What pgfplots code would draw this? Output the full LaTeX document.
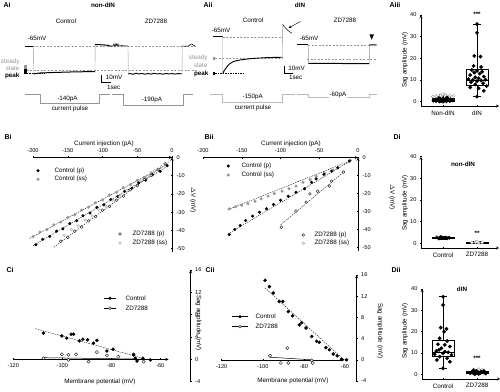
\documentclass[border=0pt]{standalone}
\usepackage{pgfplots}
\pgfplotsset{compat=1.18}
\usepgfplotslibrary{statistics}
\usetikzlibrary{arrows.meta}
\usepackage{fontspec}
\setmainfont{Liberation Sans}
\definecolor{gr}{RGB}{150,150,150}
\definecolor{lg}{RGB}{185,185,185}
\newcommand\fs{\fontsize{6.3}{7}\selectfont}
\newcommand\fst{\fontsize{5.6}{6}\selectfont}
\pgfplotsset{
  dax/.style={scale only axis, clip=false, axis line style={-, line width=0.45pt},
    tick style={black, line width=0.45pt}, tick align=outside, major tick length=2pt,
    tick label style={font=\fst}, /pgf/number format/assume math mode=true,
    /pgf/number format/1000 sep={}},
  blk/.style={only marks, mark=*, mark size=1.4pt, mark options={fill=black, draw=black, line width=0.3pt}},
  gry/.style={only marks, mark=*, mark size=1.4pt, mark options={fill=gr, draw=gr, line width=0.3pt}},
  opn/.style={only marks, mark=*, mark size=1.4pt, mark options={fill=white, draw=black, line width=0.35pt}},
  opg/.style={only marks, mark=*, mark size=1.4pt, mark options={fill=white, draw=gr, line width=0.35pt}},
  dblk/.style={only marks, mark=*, mark size=1.75pt, mark options={fill=black, draw=black, line width=0.3pt}},
  dopg/.style={only marks, mark=*, mark size=1.6pt, mark options={fill=white, draw=gr, line width=0.4pt}},
  fit/.style={black, line width=0.35pt, dash pattern=on 1.5pt off 1pt},
  tr/.style={black, line width=1pt},
  tv/.style={gr, line width=0.35pt},
  bp/.style={black, line width=0.45pt, solid, boxplot/draw direction=y},
}
\begin{document}
\begin{tikzpicture}[font=\fs]
\useasboundingbox (0pt,0pt) rectangle (500pt,391pt);

% ---------------- Bi ----------------
\begin{axis}[dax, at={(33pt,138.9pt)}, anchor=south west, width=139pt, height=94.6pt,
  xmin=-200, xmax=0, ymin=-52, ymax=0,
  axis x line=top, axis y line=right,
  xtick={-200,-150,-100,-50,0}, ytick={0,-10,-20,-30,-40,-50}]
\addplot[fit] coordinates {(-200,-48.5) (-5,-4.6)};
\addplot[fit] coordinates {(-205,-44.5) (-5,-3.5)};
\addplot[fit] coordinates {(-170,-49.3) (-5,-2.4)};
\addplot[gry] coordinates {(-200,-43.5) (-190,-41.0) (-180,-39.6) (-170,-37.0) (-160,-35.5) (-150,-33.0) (-140,-31.5) (-130,-28.9) (-120,-27.3) (-110,-24.8) (-100,-23.3) (-90,-20.7) (-80,-19.1) (-70,-16.6) (-60,-15.0) (-50,-12.5) (-40,-10.9) (-30,-8.4) (-20,-6.8) (-10,-3.5)};
\addplot[blk] coordinates {(-196,-47.9) (-186,-45.0) (-176,-43.4) (-166,-40.5) (-157,-39.2) (-147,-36.3) (-137,-34.8) (-128,-32.0) (-118,-30.5) (-108,-27.4) (-98,-26.0) (-88,-23.1) (-78,-21.4) (-68,-18.5) (-58,-16.9) (-48,-14.0) (-38,-12.4) (-28,-9.5) (-17,-7.6) (-7,-4.5)};
\addplot[opg] coordinates {(-155,-42.7) (-145,-39.6) (-135,-37.6) (-125,-34.3) (-115,-32.2) (-105,-28.9) (-95,-26.8) (-85,-23.5) (-75,-21.4) (-65,-18.1) (-55,-15.9) (-45,-12.8) (-35,-10.5) (-25,-7.4) (-15,-5.1)};
\addplot[opn] coordinates {(-160,-46.0) (-150,-43.9) (-140,-40.5) (-130,-38.2) (-120,-34.8) (-110,-32.5) (-100,-29.0) (-90,-26.9) (-80,-23.4) (-70,-21.2) (-60,-17.7) (-50,-15.5) (-40,-12.1) (-30,-9.8) (-20,-6.4) (-10,-3.5)};
\end{axis}

% ---------------- Bii ----------------
\begin{axis}[dax, at={(203pt,139.9pt)}, anchor=south west, width=155pt, height=93.6pt,
  xmin=-200, xmax=0, ymin=-52, ymax=0,
  axis x line=top, axis y line=right,
  xtick={-200,-150,-100,-50,0}, ytick={0,-10,-20,-30,-40,-50}]
\addplot[fit] coordinates {(-168,-42.5) (-8,-1.5)};
\addplot[fit] coordinates {(-168,-29.0) (-8,-1.5)};
\addplot[fit] coordinates {(-100,-37.5) (-17,-7.5)};
\addplot[gry] coordinates {(-166,-28.5) (-158,-27.4) (-150,-26.6) (-142,-25.7) (-133,-24.3) (-125,-23.0) (-116,-21.5) (-108,-20.0) (-98,-18.7) (-89,-17.4) (-80,-15.9) (-71,-13.7) (-62,-12.2) (-54,-10.4) (-43,-8.5) (-32,-7.0) (-26,-5.7) (-10,-1.5)};
\addplot[blk] coordinates {(-166,-42.8) (-159,-40.0) (-152,-37.8) (-145,-35.0) (-136,-32.6) (-127,-30.4) (-118,-28.5) (-109,-26.1) (-100,-23.7) (-90,-21.5) (-80,-19.3) (-69,-17.4) (-60,-13.7) (-54,-11.9) (-44,-9.4) (-34,-7.6) (-26,-5.7) (-11,-2.0)};
\addplot[opn] coordinates {(-99,-38.7) (-80,-29.8) (-67,-24.8) (-62,-20.2) (-52,-18.7) (-37,-15.9) (-34,-13.1) (-19,-8.1)};
\end{axis}

% ---------------- Ci ----------------
\begin{axis}[dax, at={(13.3pt,9.3pt)}, anchor=south west, width=177.4pt, height=111.7pt,
  xmin=-120, xmax=-47.6, ymin=-4, ymax=16,
  axis x line=middle, axis y line=right,
  x axis line style={shorten >=22pt},
  xtick={-120,-100,-80,-60}, ytick={-4,0,4,8,12,16}]
\addplot[fit] coordinates {(-111,5.5) (-68,0.3)};
\addplot[black, line width=0.5pt] coordinates {(-108,0.3) (-68,0.05)};
\addplot[opn, mark size=1.6pt] coordinates {(-107.7,0.2) (-100.2,0.9) (-97.5,0.8) (-94.4,0.9) (-97.5,-0.1) (-89.3,-0.4) (-85.9,1.3) (-81.8,0.7) (-77.1,0.5) (-70.9,0.9) (-66.8,-0.4)};
\addplot[blk, mark size=1.6pt] coordinates {(-107.7,4.7) (-100.2,4.2) (-98.2,3.8) (-96.4,4.5) (-95.4,4.5) (-93,3.3) (-91.6,3.6) (-89.7,3.5) (-87.3,2.9) (-85.9,3.4) (-81.8,1.5) (-79.3,1.8) (-70.9,0.8) (-70.2,0.2) (-69.5,-0.3) (-67.1,0.2) (-64.1,-0.1)};
\end{axis}

% ---------------- Cii ----------------
\begin{axis}[dax, at={(221.7pt,10pt)}, anchor=south west, width=135pt, height=106pt,
  xmin=-120, xmax=-54.3, ymin=-4, ymax=16,
  axis x line=middle, axis y line=right,
  x axis line style={shorten >=12pt},
  xtick={-120,-100,-80,-60}, ytick={-4,0,4,8,12,16}]
\addplot[fit] coordinates {(-99,13.6) (-60.5,0.0)};
\addplot[black, line width=0.5pt] coordinates {(-97,0.5) (-76,0.0)};
\addplot[opn, mark size=1.6pt] coordinates {(-96.5,0.75) (-88.1,2.2) (-91.2,-0.6) (-87.6,-0.6) (-76.2,-0.1) (-75.7,-0.6)};
\addplot[blk, mark size=1.6pt] coordinates {(-98.9,15.0) (-96.8,13.8) (-94.9,12.6) (-92.0,11.0) (-90.3,11.0) (-87.6,9.1) (-85.5,8.3) (-82.2,6.6) (-81.1,7.0) (-79.0,6.0) (-76.2,4.4) (-73.8,3.5) (-72.5,3.3) (-69.3,2.3) (-67.6,1.9) (-65.7,1.1) (-63.8,0.75) (-61.7,0.1) (-59.2,0.0)};
\end{axis}

% ---------------- Aiii ----------------
\begin{axis}[dax, at={(420.9pt,285pt)}, anchor=south west, width=78.2pt, height=91pt,
  xmin=-0.65, xmax=1.65, ymin=-2, ymax=40,
  axis x line=bottom, axis y line=left,
  xtick={0,1}, xticklabels={Non-dIN,dIN}, ytick={0,10,20,30,40},
  xticklabel style={font=\fs}]
\addplot[bp, boxplot prepared={draw position=1, lower whisker=2.3, lower quartile=7.7, median=10, upper quartile=14.9, upper whisker=35.8, box extend=0.65, whisker extend=0.25}] coordinates {};
\addplot[bp, boxplot prepared={draw position=0, lower whisker=0, lower quartile=0.3, median=0.8, upper quartile=1.8, upper whisker=3.4, box extend=0.65, whisker extend=0.25}] coordinates {};
\addplot[dblk] coordinates {(1.00,35.8) (1.00,31.8) (0.92,21.1) (1.10,20.8) (0.90,16.5) (1.12,16.0) (0.85,14.6) (1.0,14.2) (1.15,13.8) (0.92,13.4) (1.08,12.9) (0.80,12.3) (1.20,11.6) (0.95,11.2) (1.05,10.8) (0.75,10.4) (1.25,10.2) (0.88,10.0) (1.12,9.8) (1.0,9.5) (0.82,9.0) (1.18,8.5) (0.95,8.0) (1.28,7.2) (0.80,6.6) (1.05,6.2) (1.2,5.0) (1.0,2.3)};
\addplot[dopg] coordinates {(-0.2,2.6) (-0.07,2.9) (0.07,3.1) (0.2,2.8) (0,3.4) (0.3,2.5) (-0.3,2.4)};
\addplot[dblk] coordinates {(0.0,0.0) (-0.1,0.1) (0.1,0.15) (-0.2,0.3) (0.2,0.3) (-0.05,0.4) (0.05,0.5) (-0.28,0.5) (0.28,0.6) (-0.15,0.7) (0.15,0.8) (0,0.9) (-0.22,1.0) (0.22,1.1) (-0.08,1.2) (0.08,1.3) (0,1.5) (-0.12,1.7) (0.12,1.9)};
\end{axis}

% ---------------- Di ----------------
\begin{axis}[dax, at={(420.9pt,143pt)}, anchor=south west, width=78.2pt, height=91.3pt,
  xmin=-0.65, xmax=1.65, ymin=-2.2, ymax=40,
  axis x line=bottom, axis y line=left,
  xtick={0,1}, xticklabels={Control,ZD7288}, ytick={0,10,20,30,40},
  xticklabel style={font=\fs}]
\addplot[bp, boxplot prepared={draw position=0, lower whisker=2.0, lower quartile=2.2, median=2.5, upper quartile=2.9, upper whisker=3.1, box extend=0.65, whisker extend=0.25}] coordinates {};
\addplot[bp, boxplot prepared={draw position=1, lower whisker=0.1, lower quartile=0.2, median=0.4, upper quartile=0.6, upper whisker=0.8, box extend=0.65, whisker extend=0.25}] coordinates {};
\addplot[dblk] coordinates {(-0.12,2.2) (0,2.4) (0.12,2.3) (-0.06,2.9) (0.06,2.6) (0.18,2.5) (-0.18,2.7)};
\addplot[dopg] coordinates {(0.85,0.3) (0.95,0.5) (1.05,0.2) (1.15,0.4) (1.0,0.7)};
\end{axis}

% ---------------- Dii ----------------
\begin{axis}[dax, at={(422pt,12pt)}, anchor=south west, width=78.2pt, height=90pt,
  xmin=-0.62, xmax=1.68, ymin=-2.2, ymax=40,
  axis x line=bottom, axis y line=left,
  xtick={0,1}, xticklabels={Control,ZD7288}, ytick={0,10,20,30,40},
  xticklabel style={font=\fs}]
\addplot[bp, boxplot prepared={draw position=0, lower whisker=2.8, lower quartile=8.3, median=10.3, upper quartile=16.1, upper whisker=36.4, box extend=0.65, whisker extend=0.25}] coordinates {};
\addplot[bp, boxplot prepared={draw position=1, lower whisker=0, lower quartile=0.4, median=0.9, upper quartile=1.5, upper whisker=2.5, box extend=0.65, whisker extend=0.25}] coordinates {};
\addplot[dblk] coordinates {(0,36.4) (0,32.5) (-0.07,21.9) (0.1,21.3) (0.03,20.0) (-0.1,16.9) (0.12,15.6) (-0.15,14.1) (0.05,13.8) (0.2,13.0) (-0.05,12.2) (-0.2,10.9) (0.15,10.3) (0.0,9.8) (-0.25,9.4) (0.25,9.1) (-0.1,8.3) (0.12,7.5) (-0.18,6.7) (0.2,5.9) (0.05,10.6) (-0.12,11.5) (0,2.8)};
\addplot[dopg] coordinates {(0.9,2.2) (1.05,2.4) (1.15,2.0)};
\addplot[dblk] coordinates {(0.8,0.5) (0.88,0.8) (0.95,0.3) (1.02,1.0) (1.1,0.6) (1.18,0.9) (1.25,0.4) (0.85,1.3) (0.98,1.5) (1.12,1.2) (1.2,1.6) (0.92,0.1) (1.05,0.2) (0.9,1.9)};
\end{axis}

% ---------------- overlay: traces, labels ----------------
\begin{axis}[at={(0pt,0pt)}, anchor=south west, scale only axis, width=500pt, height=391pt,
  xmin=0, xmax=500, ymin=0, ymax=391, y dir=reverse, hide axis, clip=false]
\node[anchor=west,font=\bfseries\fontsize{7}{8}\selectfont] at (0,5) {Ai};
\node[anchor=west,font=\bfseries\fontsize{7}{8}\selectfont] at (200,5) {Aii};
\node[anchor=west,font=\bfseries\fontsize{7}{8}\selectfont] at (386,5) {Aiii};
\node[anchor=west,font=\bfseries\fontsize{7}{8}\selectfont] at (1,137) {Bi};
\node[anchor=west,font=\bfseries\fontsize{7}{8}\selectfont] at (201,137) {Bii};
\node[anchor=west,font=\bfseries\fontsize{7}{8}\selectfont] at (390,137) {Di};
\node[anchor=west,font=\bfseries\fontsize{7}{8}\selectfont] at (3,270) {Ci};
\node[anchor=west,font=\bfseries\fontsize{7}{8}\selectfont] at (202,270) {Cii};
\node[anchor=west,font=\bfseries\fontsize{7}{8}\selectfont] at (388,270) {Dii};

% ---- Ai ----
\node[font=\bfseries\fs] at (103,5) {non-dIN};
\node at (66,21.7) {Control};
\node at (156,21.7) {ZD7288};
\node at (37,38.3) {-65mV};
\node[anchor=east,text=gr] at (23,61.5) {steady};
\node[anchor=east,text=gr] at (23,68.5) {state};
\node[anchor=east,font=\bfseries\fs] at (23,76) {peak};
\fill[gr] (24.5,65) rectangle (26.8,69.2);
\fill[black] (24.5,69.3) rectangle (26.8,73.5);
\addplot[gr, line width=0.4pt, dash pattern=on 2pt off 1.5pt] coordinates {(33,46) (197,46)};
\addplot[gr, line width=0.4pt, dash pattern=on 2pt off 1.5pt] coordinates {(27,70.5) (197,70.5)};
\addplot[black, line width=0.4pt, dash pattern=on 1.5pt off 1pt] coordinates {(27,73.5) (45,73.5)};
\addplot[tr] coordinates {(25,46) (33.3,46)};
\addplot[tv] coordinates {(33.3,46) (33.5,74)};
\addplot[tr] coordinates {(33.5,74) (36,73.5) (40,73) (50,72.6) (60,72.3) (70,72) (80,71.8) (90,71.6) (95,71.5)};
\addplot[tv] coordinates {(95,71.5) (95.2,44.5)};
\addplot[tr] coordinates {(95.2,44.5) (100,44.7) (105,45) (108,45.3) (110,46)};
\addplot[black, line width=0.6pt] coordinates {(110,46) (113,46) (114,44) (115,46.5) (116,43.5) (117,46) (118,44) (119,46) (121,45.7) (128,46)};
\addplot[tv] coordinates {(128,46) (128.3,74)};
\addplot[black, line width=0.9pt] coordinates {(128.3,74) (130,73.5) (133,74.3) (136,73.2) (139,74) (142,73.4) (145,74.2) (148,73.5) (151,74.1) (154,73.3) (157,74) (160,73.6) (163,74.2) (166,73.4) (169,74) (172,73.5) (175,74.1) (178,73.6) (182,73.8)};
\addplot[tv] coordinates {(182,73.8) (182.3,46)};
\addplot[black, line width=0.6pt] coordinates {(182.3,46) (186,46.2) (189,46) (190,44.5) (192,44) (194,45.5) (195,46)};
\draw[black, line width=0.6pt] (101.7,74.5) -- (101.7,82.5) -- (110.5,82.5);
\node[anchor=west] at (102.3,77.3) {10mV};
\node[anchor=west] at (103.5,87.8) {1sec};
\addplot[gr, line width=0.5pt] coordinates {(25,94) (40,94) (40,103) (99.3,103) (99.3,94) (110,94)};
\addplot[gr, line width=0.5pt] coordinates {(112,94) (123.3,94) (123.3,105) (183,105) (183,94) (193,94)};
\node at (67.5,98.5) {-140pA};
\node at (70,109) {current pulse};
\node at (152,100) {-190pA};

% ---- Aii ----
\node[font=\bfseries\fs] at (300,5) {dIN};
\node at (253,20) {Control};
\node at (345,20) {ZD7288};
\node at (221,30) {-65mV};
\node[anchor=east,text=gr] at (211,57.5) {steady};
\node[anchor=east,text=gr] at (211,65) {state};
\node[anchor=east,font=\bfseries\fs] at (212,73.7) {peak};
\fill[gr] (212.5,57) rectangle (214.8,59.6);
\fill[black] (212.5,72.3) rectangle (214.8,75);
\addplot[gr, line width=0.4pt, dash pattern=on 2pt off 1.5pt] coordinates {(222.7,36.7) (283,36.7)};
\addplot[gr, line width=0.4pt, dash pattern=on 2pt off 1.5pt] coordinates {(215,58.3) (283,58.3)};
\addplot[black, line width=0.4pt, dash pattern=on 1.5pt off 1pt] coordinates {(215,73.6) (243,73.6)};
\addplot[tr] coordinates {(213,36.7) (222.7,36.7)};
\addplot[tv] coordinates {(222.7,36.7) (222.8,73.3)};
\addplot[black, line width=0.9pt] coordinates {(222.8,73.3) (224,71) (226,68) (228,65.5) (230,63.5) (233,61.8) (236,60.8) (240,60) (245,59.3) (250,58.7) (255,58.3) (260,58) (265,57.7) (270,57.5) (275,57.4) (280,57.3) (282.5,57.2)};
\addplot[tv] coordinates {(282.5,57.2) (282.7,24.3)};
\addplot[black, line width=0.5pt] coordinates {(282.7,24.3) (284,26.2) (286,28.5) (288,30.5) (290,32) (292,33.3)};
\draw[-{Stealth[length=3pt,width=2.6pt]}, line width=0.45pt] (300.5,21.5) -- (288.5,28);
\node at (309,38.3) {-65mV};
\addplot[gr, line width=0.4pt, dash pattern=on 2pt off 1.5pt] coordinates {(308.3,45) (370,45)};
\addplot[gr, line width=0.4pt, dash pattern=on 2pt off 1.5pt] coordinates {(307,59) (377,59)};
\addplot[tr] coordinates {(296.7,44.3) (308.3,44.3)};
\addplot[tv] coordinates {(308.3,44.3) (308.4,63.3)};
\addplot[tr] coordinates {(308.4,63.3) (320,63.5) (335,63.4) (350,63.6) (369.3,63.5)};
\addplot[tv] coordinates {(369.3,63.5) (369.4,45)};
\addplot[tr] coordinates {(369.4,45) (376.7,44.8)};
\fill[black] (369.4,34.3) -- (374,34.3) -- (371.7,39.8) -- cycle;
\draw[black, line width=0.6pt] (284,65.5) -- (284,73.3) -- (292.5,73.3);
\node[anchor=west] at (284.8,68.3) {10mV};
\node[anchor=west] at (285.5,77.3) {1sec};
\addplot[lg, line width=0.5pt] coordinates {(210,94.3) (222.7,94.3) (222.7,102.3) (282.7,102.3) (282.7,94.3) (295,94.3)};
\addplot[lg, line width=0.5pt] coordinates {(297,94.3) (308.3,94.3) (308.3,97.5) (369.3,97.5) (369.3,94.3) (377,94.3)};
\node at (252.7,96.7) {-150pA};
\node at (253,107.7) {current pulse};
\node[fill=white, inner sep=1pt] at (338,95) {-60pA};

% ---- Aiii / D labels ----
\node[rotate=90] at (405,60) {Sag amplitude (mV)};
\node[rotate=90] at (405,203) {Sag amplitude (mV)};
\node[rotate=90] at (405,331) {Sag amplitude (mV)};
\node[font=\bfseries\fs] at (477,14.5) {***};
\node[font=\bfseries\fs] at (477,233) {**};
\node[font=\bfseries\fs] at (477,358) {***};
\node[font=\bfseries\fs] at (463,164) {non-dIN};
\node[font=\bfseries\fs] at (462,289.5) {dIN};

% ---- B labels and legends ----
\node at (104,144) {Current injection (pA)};
\node at (291,144) {Current injection (pA)};
\node[rotate=-90] at (193,200) {$\Delta$V (mV)};
\node[rotate=-90] at (392,197) {$\Delta$V (mV)};
\addplot[blk] coordinates {(38,170.7)};
\addplot[gry] coordinates {(38,179.3)};
\node[anchor=west] at (51,170.7) {Control (p)};
\node[anchor=west] at (51,179.3) {Control (ss)};
\addplot[opn] coordinates {(120,234)};
\addplot[opg] coordinates {(120,243)};
\node[anchor=west] at (129,234) {ZD7288 (p)};
\node[anchor=west] at (129,243) {ZD7288 (ss)};
\addplot[blk] coordinates {(228.3,166)};
\addplot[gry] coordinates {(228.3,175)};
\node[anchor=west] at (238,166) {Control (p)};
\node[anchor=west] at (238,175) {Control (ss)};
\addplot[opn] coordinates {(303.3,235)};
\addplot[opg] coordinates {(303.3,243.3)};
\node[anchor=west] at (311,235) {ZD7288 (p)};
\node[anchor=west] at (311,243.3) {ZD7288 (ss)};

% ---- C labels and legends ----
\node at (100,381.7) {Membrane potential (mV)};
\node at (293,381) {Membrane potential (mV)};
\node[rotate=-90] at (198.5,323) {Sag amplitude (mV)};
\node[rotate=-90] at (380,331) {Sag amplitude (mV)};
\addplot[black, line width=0.5pt] coordinates {(104,298.3) (116,298.3)};
\addplot[blk] coordinates {(110,298.3)};
\addplot[black, line width=0.5pt] coordinates {(104,308.3) (116,308.3)};
\addplot[opn] coordinates {(110,308.3)};
\node[anchor=west] at (122,298.3) {Control};
\node[anchor=west] at (122,308.3) {ZD7288};
\addplot[black, line width=0.5pt] coordinates {(232,316.7) (248,316.7)};
\addplot[blk] coordinates {(240,316.7)};
\addplot[black, line width=0.5pt] coordinates {(232,326.7) (248,326.7)};
\addplot[opn] coordinates {(240,326.7)};
\node[anchor=west] at (252,316.7) {Control};
\node[anchor=west] at (252,326.7) {ZD7288};
\end{axis}
\end{tikzpicture}
\end{document}
